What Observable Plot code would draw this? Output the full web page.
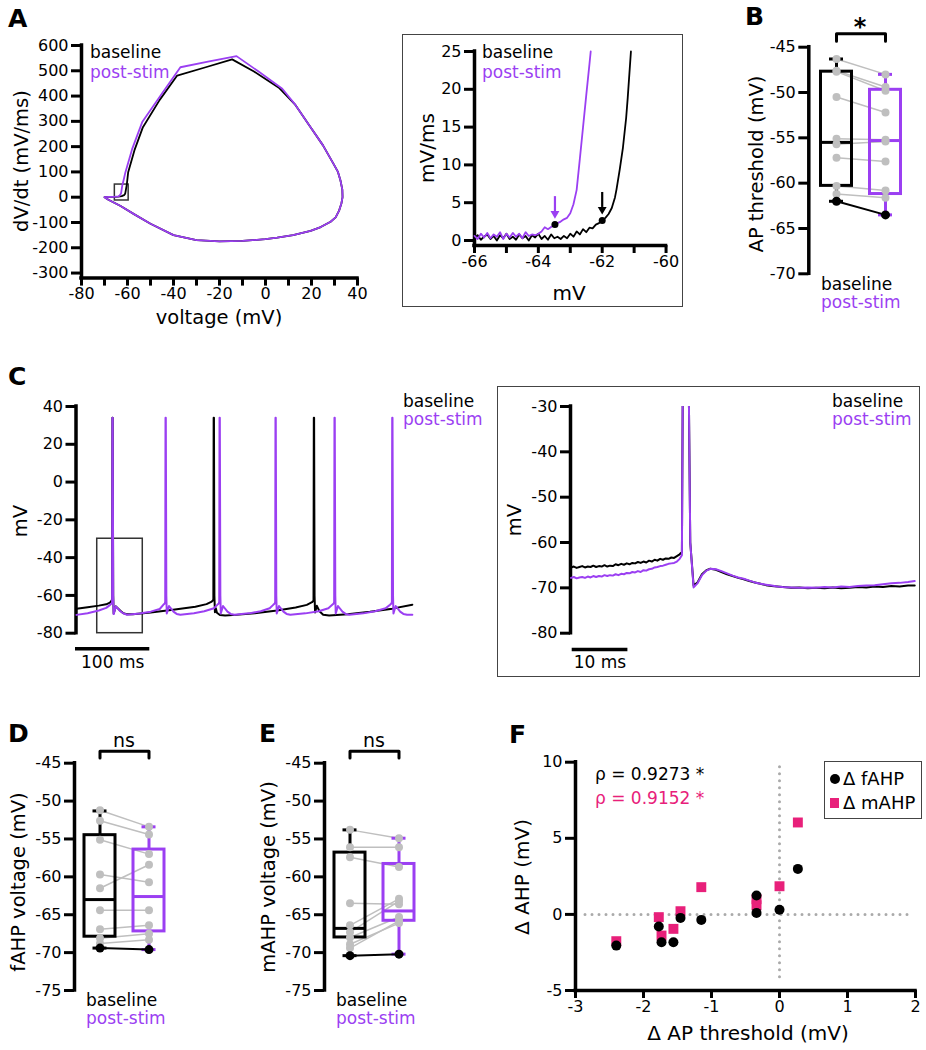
<!DOCTYPE html>
<html><head><meta charset="utf-8">
<script src="https://cdn.jsdelivr.net/npm/d3@7"></script>
<script src="https://cdn.jsdelivr.net/npm/@observablehq/plot@0.6"></script>
<style>
body{margin:0;background:#fff;}
#fig{position:relative;width:926px;height:1050px;font-family:"DejaVu Sans",sans-serif;overflow:hidden;background:#fff}
#fig svg{position:absolute;overflow:visible;background:transparent}
.t{position:absolute;white-space:nowrap;line-height:1;color:#000}
.box{position:absolute;border:1.5px solid #444;box-sizing:border-box}
</style></head><body><div id="fig"></div>
<script>
// ---------------- DATA ----------------
// A: phase plot (voltage mV, dV/dt mV/ms)
const phaseBaseV = [-70, -68, -66, -64, -62.5, -61.5, -61, -60.3, -59.7, -57, -53.3, -46, -38.4, -26, -14.5, -5, 5.8, 13, 19.6, 25, 29.7, 31.5, 32.6, 33.4, 33.5];
const phaseBaseD = [0, 1, 1, 2, 4, 8, 14, 50, 99, 185, 277, 385, 481, 514, 545, 497, 433, 365, 277, 205, 130, 100, 66, 30, 0];
const phasePostV = [-70, -68, -66, -65, -64, -63.5, -62.8, -62.3, -61.5, -60.9, -58, -53.6, -45, -37, -25, -12.6, -3, 7.3, 13, 19.6, 25, 29.7, 31.5, 32.6, 33.4, 33.5];
const phasePostD = [0, 1, 1, 2, 3, 6, 15, 45, 75, 99, 190, 297, 410, 514, 536, 558, 497, 429, 365, 277, 205, 130, 100, 66, 30, 0];
const phaseRetV = [33, 32, 30.5, 28.3, 24, 19.6, 12, 5.1, 0, -10, -20, -30, -40, -50, -57, -63, -68.3, -70];
const phaseRetD = [-25, -53, -80, -97, -118, -133, -150, -160, -166, -173, -175, -170, -150, -105, -68, -35, -10, 0];
const aZoomBox = [-65.5, -59.5, -13, 50];
const aYTicks = [-300, -200, -100, 0, 100, 200, 300, 400, 500, 600];
const aXTicks = [-80, -70, -60, -50, -40, -30, -20, -10, 0, 10, 20, 30, 40];
const aXLabels = [-80, -60, -40, -20, 0, 20, 40];
// A inset
const aInsetBaseV = [-66.0,-65.9,-65.8,-65.7,-65.6,-65.5,-65.4,-65.3,-65.2,-65.1,-65.0,-64.9,-64.8,-64.7,-64.6,-64.5,-64.4,-64.3,-64.2,-64.1,-64.0,-63.9,-63.8,-63.7,-63.6,-63.5,-63.4,-63.3,-63.2,-63.1,-63.0,-62.9,-62.8,-62.7,-62.6,-62.5,-62.4,-62.3,-62.2,-62.1,-62.0,-61.9,-61.8,-61.7,-61.6,-61.55,-61.45,-61.35,-61.25,-61.2,-61.1];
const aInsetBaseD = [0.3,0.7,0.1,0.5,0.8,0.2,0.6,0.0,0.7,0.3,0.9,0.2,0.5,0.1,0.8,0.3,0.6,0.0,0.7,0.4,0.9,0.2,0.6,0.1,0.8,0.3,0.5,0.2,0.6,0.3,0.9,0.5,1.2,0.8,1.5,1.1,1.7,1.6,2.1,2.3,2.65,3.0,3.5,4.3,5.7,6.8,9.4,12.3,16.2,18.9,25];
const aInsetPostV = [-66.0,-65.9,-65.8,-65.7,-65.6,-65.5,-65.4,-65.3,-65.2,-65.1,-65.0,-64.9,-64.8,-64.7,-64.6,-64.5,-64.4,-64.3,-64.2,-64.1,-64.0,-63.9,-63.8,-63.7,-63.6,-63.5,-63.4,-63.3,-63.2,-63.1,-63.0,-62.9,-62.8,-62.7,-62.6,-62.5,-62.4,-62.36];
const aInsetPostD = [0.6,0.2,0.9,0.4,1.0,0.3,0.8,0.5,1.1,0.2,0.9,0.4,1.0,0.5,0.9,0.3,1.1,0.6,0.8,0.7,0.9,1.2,1.75,1.5,1.8,2.1,2.3,2.5,2.8,3.0,3.6,4.8,6.7,10.8,15.0,19.2,23.3,25];
const aThreshV = [-62.0, -63.48];   // baseline, post-stim
const aThreshD = [2.65, 2.1];
const aInsetYTicks = [0, 5, 10, 15, 20, 25];
const aInsetXTicks = [-66, -65, -64, -63, -62, -61, -60];
const aInsetXLabels = [-66, -64, -62, -60];
// B: AP threshold (mV), paired
const bBase = [-46.3, -47.6, -47.7, -50.5, -55.1, -55.7, -57.2, -60.3, -61.2, -62.0];
const bPost = [-48.0, -49.4, -49.8, -52.2, -55.2, -55.4, -57.6, -60.8, -61.6, -63.5];
const bBoxQ1 = [-60.3, -61.2], bBoxMed = [-55.5, -55.3], bBoxQ3 = [-47.7, -49.7], bBoxMin = [-62.0, -63.5], bBoxMax = [-46.3, -48.0];
const bYTicks = [-45, -50, -55, -60, -65, -70];
// C: voltage traces (ms, mV)
const cBaseT = [0,15,30,40,45,47.2,47.9,48.3,48.7,49.4, 50.0,53.0,59,63,67.5,76,100,130,160,175, 182,184.2,184.6,185.0,185.6,186.3,187.5,189,193,200, 215,240,270,295,310,317,319.0,319.4,319.8,320.4, 321.1,323.5,327,332,340,365,395,425,452];
const cBaseV = [-67.1,-66.3,-65.4,-64.7,-63.8,-62.8,-62.1,34,34,-60, -69.5,-65.8,-68.1,-69.4,-70.0,-70.0,-69.0,-67.6,-66.0,-64.6, -63.3,-62.3,34,34,-60,-68.9,-66.8,-69.2,-70.4,-70.6, -70.3,-69.4,-68.0,-66.4,-65.0,-63.6,-62.7,34,34,-60, -69.0,-65.5,-68.4,-70.2,-70.6,-70.0,-68.7,-67.0,-64.9];
const cPostT = [0,15,30,40,45.3,47.3,47.9,48.3,48.7,49.4,50.0,53.0,59,63.3,68.3,
 85,100,112,116.8,118.8,119.4,119.8,120.2,120.9,121.5,124.5,130.5,134.8,139.8,
 158,172,185,189.5,191.5,192.1,192.5,192.9,193.6,194.2,197.2,203.2,207.5,212.5,
 232,248,260,264.8,266.8,267.4,267.8,268.2,268.9,269.5,272.5,278.5,282.8,287.8,
 308,326,339,344.2,346.2,346.8,347.2,347.6,348.3,348.9,351.9,357.9,362.2,367.2,
 386,402,416,421.9,423.9,424.5,424.9,425.3,426.0,426.6,429.6,435.6,439.9,444.9,452];
const cPostV = [-70.3,-69.4,-68.0,-66.6,-65.0,-64.3,-63.3,34,34,-60,-69.9,-65.8,-68.4,-69.6,-70.2,
 -69.6,-68.6,-67.2,-65.0,-64.3,-63.3,34,34,-60,-69.6,-65.6,-68.6,-69.8,-70.2,
 -69.4,-68.4,-66.8,-65.0,-64.3,-63.3,34,34,-60,-69.6,-65.6,-68.6,-69.8,-70.2,
 -69.5,-68.4,-66.8,-65.0,-64.3,-63.3,34,34,-60,-69.6,-65.6,-68.6,-69.8,-70.2,
 -69.5,-68.4,-66.8,-65.0,-64.3,-63.3,34,34,-60,-69.6,-65.6,-68.6,-69.8,-70.2,
 -69.5,-68.4,-66.8,-65.0,-64.3,-63.3,34,34,-60,-69.6,-65.6,-68.6,-69.8,-70.2,-70.2];
const cZoomWindow = [27.9, 89.2, -80, -30];
const cLeftYTicks = [40, 20, 0, -20, -40, -60, -80];
const cLeftScaleMs = 100;
const cRightT = [28,28.5,29,29.5,30,30.5,31,31.5,32,32.5,33,33.5,34,34.5,35,35.5,36,36.5,37,37.5,38,38.5,39,39.5,40,40.5,41,41.5,42,42.5,43,43.5,44,44.5,45,45.5,46,46.5,47,47.5,47.9,
 48.3,48.7,49.4,50.0,50.7,51.5,52.3,53.0, 54,55,56,57,58,59,60,61,62,63,64,65,66,
 67.5,69,70.5,72,73.5,75,76.5,78,79.5,81,82.5,84,85.5,87,88.5, 89.7];
const cRightBase = [-65.5,-65.3,-65.6,-65.4,-65.2,-65.5,-65.3,-65.4,-65.1,-65.4,-65.2,-65.3,-65.0,-65.3,-65.1,-65.2,-64.8,-65.0,-64.7,-64.9,-64.6,-64.8,-64.5,-64.6,-64.3,-64.5,-64.2,-64.4,-64.0,-64.2,-63.8,-64.0,-63.6,-63.8,-63.5,-63.6,-63.3,-63.4,-63.0,-62.6,-62.1,
 30,30,-60,-69.5,-68.8,-67.0,-66.1,-65.8, -66.0,-66.5,-67.0,-67.4,-67.8,-68.1,-68.5,-68.8,-69.1,-69.4,-69.6,-69.7,-69.8,
 -70.0,-69.9,-70.1,-70.0,-70.1,-69.9,-70.1,-70.0,-69.8,-69.9,-69.7,-69.8,-69.6,-69.7,-69.5, -69.5];
const cRightPost = [-67.8,-67.6,-67.9,-67.7,-67.6,-67.8,-67.5,-67.7,-67.4,-67.6,-67.4,-67.5,-67.2,-67.4,-67.2,-67.3,-67.0,-67.2,-66.9,-67.0,-66.7,-66.8,-66.5,-66.6,-66.3,-66.5,-66.1,-66.2,-65.9,-65.8,-65.5,-65.4,-65.2,-65.1,-64.9,-64.7,-64.6,-64.5,-64.2,-63.6,-62.8,
 30,30,-60,-69.9,-69.0,-67.2,-66.2,-65.8, -65.9,-66.3,-66.8,-67.3,-67.7,-68.0,-68.4,-68.8,-69.1,-69.3,-69.5,-69.7,-69.8,
 -69.9,-70.0,-69.9,-70.0,-69.8,-69.9,-69.7,-69.8,-69.6,-69.5,-69.4,-69.2,-69.0,-68.9,-68.7, -68.5];
const cRightYTicks = [-30, -40, -50, -60, -70, -80];
const cRightScaleMs = 10;
// D: fAHP voltage (mV)
const dBase = [-51.2, -52.6, -55.1, -59.7, -61.5, -64.4, -66.9, -68.1, -68.8, -69.4];
const dPost = [-53.4, -54.4, -57.0, -60.7, -58.4, -64.4, -66.4, -67.5, -68.3, -69.6];
const dBoxQ1 = [-67.9, -67.2], dBoxMed = [-63.0, -62.6], dBoxQ3 = [-54.5, -56.4], dBoxMin = [-69.4, -69.6], dBoxMax = [-51.3, -53.4];
// E: mAHP voltage (mV)
const eBase = [-53.8, -56.1, -57.4, -63.5, -66.4, -67.3, -68.0, -68.9, -69.4, -70.4];
const ePost = [-54.9, -56.1, -58.7, -63.6, -62.9, -63.2, -65.3, -66.1, -65.8, -70.2];
const eBoxQ1 = [-68.0, -65.8], eBoxMed = [-66.8, -64.5], eBoxQ3 = [-56.8, -58.3], eBoxMin = [-70.4, -70.2], eBoxMax = [-53.8, -54.9];
const deYTicks = [-45, -50, -55, -60, -65, -70, -75];
// F: deltas
const fDeltaThr = [-2.40, -1.775, -1.735, -1.56, -1.456, -1.15, -0.338, -0.338, 0, 0.27];
const fDeltaFAHP = [-2.05, -0.8, -1.83, -1.83, -0.23, -0.36, 1.24, 0.1, 0.3, 2.99];
const fDeltaMAHP = [-1.76, -0.18, -1.39, -0.95, 0.21, 1.79, 1.0, 0.6, 1.85, 6.04];
const fXTicks = [-3, -2, -1, 0, 1, 2];
const fYTicks = [-5, 0, 5, 10];
const fRho = ["ρ = 0.9273 *", "ρ = 0.9152 *"];

// ---------------- HELPERS ----------------
const PURPLE = "#9b3ff2", PINK = "#e8207a", GRAY = "#bfbfbf";
const FONT = '"DejaVu Sans", sans-serif';
const fig = document.getElementById("fig");
function lin(p0, v0, p1, v1) { const k = (v1 - v0) / (p1 - p0); return p => v0 + (p - p0) * k; }
function panel(L, T, W, H, fr, fx, fy, marks) {
  const [x0, y0, x1, y1] = fr;
  const svg = Plot.plot({
    width: W, height: H,
    marginLeft: x0 - L, marginRight: L + W - x1, marginTop: y0 - T, marginBottom: T + H - y1,
    x: {type: "linear", domain: [fx(x0), fx(x1)], axis: null},
    y: {type: "linear", domain: [fy(y1), fy(y0)], axis: null},
    style: {fontFamily: FONT, background: "transparent", overflow: "visible", color: "#000"},
    marks
  });
  svg.style.position = "absolute"; svg.style.left = L + "px"; svg.style.top = T + "px";
  svg.style.maxWidth = "none";
  fig.append(svg);
}
function axisY(fx, fy, {at, ticks, from, to, len = 10, pad = 3, size = 16, fmt = d => String(d)}) {
  return [
    Plot.ruleX([fx(at)], {x: d => d, y1: from, y2: to, stroke: "#000", strokeWidth: 3.5, strokeLinecap: "square"}),
    Plot.ruleY(ticks, {y: d => d, x1: fx(at - len), x2: fx(at), stroke: "#000", strokeWidth: 3}),
    Plot.text(ticks, {y: d => d, x: fx(at - len - pad), text: fmt, textAnchor: "end", fontSize: size, fill: "#000"})
  ];
}
function axisX(fx, fy, {at, ticks, labels, from, to, len = 9, pad = 2, size = 16, fmt = d => String(d)}) {
  return [
    Plot.ruleY([fy(at)], {y: d => d, x1: from, x2: to, stroke: "#000", strokeWidth: 3.5, strokeLinecap: "square"}),
    Plot.ruleX(ticks, {x: d => d, y1: fy(at), y2: fy(at + len), stroke: "#000", strokeWidth: 3}),
    Plot.text(labels || ticks, {x: d => d, y: fy(at + len + pad), text: fmt, lineAnchor: "top", fontSize: size, fill: "#000"})
  ];
}
function label(s, x, y, o = {}) {
  const d = document.createElement("div");
  d.className = "t"; d.textContent = s;
  d.style.fontSize = (o.size || 17) + "px";
  if (o.color) d.style.color = o.color;
  if (o.bold) d.style.fontWeight = "bold";
  d.style.left = x + "px"; d.style.top = y + "px";
  const ax = o.anchor === "middle" ? "-50%" : o.anchor === "end" ? "-100%" : "0";
  d.style.transform = `translate(${ax}, -50%)` + (o.rotate ? ` rotate(${o.rotate}deg)` : "");
  fig.append(d);
}
function frameBox(x, y, w, h) {
  const d = document.createElement("div"); d.className = "box";
  Object.assign(d.style, {left: x + "px", top: y + "px", width: w + "px", height: h + "px"});
  fig.append(d);
}
const zip = (xs, ys, kx = "x", ky = "y") => xs.map((v, i) => ({[kx]: v, [ky]: ys[i]}));

function pairedMarks(fx, fy, base, post, q1, med, q3, mn, mx, bracketY, legY) {
  const pairs = base.map((b, i) => ({b, p: post[i]}));
  const grayPairs = pairs.slice(0, -1), blackPair = pairs.slice(-1);
  const hw = 15.5 / 49, cw = 7 / 49;
  const m = [];
  m.push(Plot.link(grayPairs, {x1: 0, x2: 1, y1: "b", y2: "p", stroke: GRAY, strokeWidth: 1.5}));
  [0, 1].forEach(g => {
    const c = g ? PURPLE : "#000";
    m.push(Plot.rect([g], {x1: g - hw, x2: g + hw, y1: q1[g], y2: q3[g], fill: "none", stroke: c, strokeWidth: 3}));
    m.push(Plot.ruleY([med[g]], {y: d => d, x1: g - hw, x2: g + hw, stroke: c, strokeWidth: 3}));
    m.push(Plot.ruleX([g], {x: d => d, y1: q3[g], y2: mx[g], stroke: c, strokeWidth: 3}));
    m.push(Plot.ruleX([g], {x: d => d, y1: q1[g], y2: mn[g], stroke: c, strokeWidth: 3}));
    m.push(Plot.ruleY([mx[g], mn[g]], {y: d => d, x1: g - cw, x2: g + cw, stroke: c, strokeWidth: 3}));
  });
  m.push(Plot.dot(grayPairs, {x: 0, y: "b", r: 4, fill: GRAY}));
  m.push(Plot.dot(grayPairs, {x: 1, y: "p", r: 4, fill: GRAY}));
  m.push(Plot.link(blackPair, {x1: 0, x2: 1, y1: "b", y2: "p", stroke: "#000", strokeWidth: 2}));
  m.push(Plot.dot(blackPair, {x: 0, y: "b", r: 4.5, fill: "#000"}));
  m.push(Plot.dot(blackPair, {x: 1, y: "p", r: 4.5, fill: "#000"}));
  // significance bracket
  const yt = fy(bracketY), yl = fy(legY);
  m.push(Plot.line([{x: 0, y: yl}, {x: 0, y: yt}, {x: 1, y: yt}, {x: 1, y: yl}], {x: "x", y: "y", stroke: "#000", strokeWidth: 3}));
  return m;
}

// ---------------- PANEL A (phase plot) ----------------
{
  const fx = lin(81, -80, 357, 40), fy = lin(196.7, 0, 45, 600);
  const base = zip(phaseBaseV.concat(phaseRetV), phaseBaseD.concat(phaseRetD));
  const post = zip(phasePostV.concat(phaseRetV), phasePostD.concat(phaseRetD));
  panel(0, 0, 390, 330, [81, 45, 357, 277.6], fx, fy, [
    ...axisY(fx, fy, {at: 81, ticks: aYTicks, from: fy(277.6), to: 600, len: 10}),
    ...axisX(fx, fy, {at: 277.6, ticks: aXTicks, labels: aXLabels, from: -80, to: 40, len: 8}),
    Plot.rect([0], {x1: aZoomBox[0], x2: aZoomBox[1], y1: aZoomBox[2], y2: aZoomBox[3], fill: "none", stroke: "#333", strokeWidth: 1.5}),
    Plot.line(base, {x: "x", y: "y", stroke: "#000", strokeWidth: 1.8}),
    Plot.line(post, {x: "x", y: "y", stroke: PURPLE, strokeWidth: 1.8})
  ]);
  label("A", 8, 18, {size: 25, bold: true});
  label("baseline", 90, 52);
  label("post-stim", 90, 72, {color: PURPLE});
  label("voltage (mV)", 219, 318, {size: 19.5, anchor: "middle"});
  label("dV/dt (mV/ms)", 22, 161, {size: 19.5, anchor: "middle", rotate: -90});
}
// ---------------- PANEL A inset ----------------
{
  frameBox(402, 34, 281, 273);
  const fx = lin(474, -66, 601.7, -62), fy = lin(240, 0, 51, 25);
  const th = zip(aThreshV, aThreshD);
  const pxOf = d => 240 - d * 7.56;
  const arrows = th.map((d, i) => ({x: d.x, y1: fy(pxOf(d.y) - 28), y2: fy(pxOf(d.y) - 13), yh: fy(pxOf(d.y) - 11), c: i}));
  const arrowMarks = [0, 1].flatMap(i => {
    const col = i ? PURPLE : "#000";
    const a = arrows.filter(d => d.c === i);
    return [
      Plot.ruleX(a, {x: "x", y1: "y1", y2: "y2", stroke: col, strokeWidth: 2.2}),
      Plot.dot(a, {x: "x", y: "yh", symbol: "triangle", r: 3.3, rotate: 180, fill: col})
    ];
  });
  panel(405, 40, 275, 262, [474, 51, 665, 245], fx, fy, [
    ...axisY(fx, fy, {at: 474, ticks: aInsetYTicks, from: fy(245), to: 25, len: 10}),
    ...axisX(fx, fy, {at: 245, ticks: aInsetXTicks, labels: aInsetXLabels, from: -66, to: -60, len: 8}),
    Plot.line(zip(aInsetBaseV, aInsetBaseD), {x: "x", y: "y", stroke: "#000", strokeWidth: 1.8}),
    Plot.line(zip(aInsetPostV, aInsetPostD), {x: "x", y: "y", stroke: PURPLE, strokeWidth: 1.8}),
    Plot.dot(th, {x: "x", y: "y", r: 3.5, fill: "#000"}),
    ...arrowMarks
  ]);
  label("baseline", 482, 52);
  label("post-stim", 482, 72, {color: PURPLE});
  label("mV", 569, 293, {size: 20, anchor: "middle"});
  label("mV/ms", 427, 148, {size: 20, anchor: "middle", rotate: -90});
}
// ---------------- PANEL B ----------------
{
  const fx = lin(836, 0, 885, 1), fy = lin(46.7, -45, 273.3, -70);
  panel(700, 0, 226, 320, [808.3, 46.7, 924, 273.3], fx, fy, [
    ...axisY(fx, fy, {at: 808.3, ticks: bYTicks, from: -70, to: -45, len: 10}),
    ...pairedMarks(fx, fy, bBase, bPost, bBoxQ1, bBoxMed, bBoxQ3, bBoxMin, bBoxMax, 33.3, 40.7)
  ]);
  label("B", 745, 16, {size: 25, bold: true});
  label("*", 860, 27, {size: 24, bold: true, anchor: "middle"});
  label("AP threshold (mV)", 757, 164, {size: 19.5, anchor: "middle", rotate: -90});
  label("baseline", 821, 284);
  label("post-stim", 821, 302, {color: PURPLE});
}
// ---------------- PANEL C left ----------------
{
  const fx = lin(76, 0, 150.3, 100), fy = lin(406, 40, 632.7, -80);
  panel(0, 380, 490, 300, [76, 406, 420, 632.7], fx, fy, [
    ...axisY(fx, fy, {at: 75.5, ticks: cLeftYTicks, from: -80, to: 40, len: 10}),
    Plot.rect([0], {x1: cZoomWindow[0], x2: cZoomWindow[1], y1: cZoomWindow[2], y2: cZoomWindow[3], fill: "none", stroke: "#333", strokeWidth: 1.5}),
    Plot.line(zip(cBaseT, cBaseV), {x: "x", y: "y", stroke: "#000", strokeWidth: 2}),
    Plot.line(zip(cPostT, cPostV), {x: "x", y: "y", stroke: PURPLE, strokeWidth: 2}),
    Plot.ruleY([fy(648.3)], {y: d => d, x1: fx(75), x2: fx(75) + cLeftScaleMs, stroke: "#000", strokeWidth: 3.5})
  ]);
  label("C", 8, 376, {size: 25, bold: true});
  label("mV", 21, 521, {size: 19.5, anchor: "middle", rotate: -90});
  label("baseline", 403, 401);
  label("post-stim", 403, 419, {color: PURPLE});
  label("100 ms", 112.7, 662, {anchor: "middle"});
}
// ---------------- PANEL C right ----------------
{
  frameBox(497, 386, 423, 291);
  const fx = lin(570, 27.9, 625.7, 37.9), fy = lin(406, -30, 632.7, -80);
  panel(500, 390, 418, 284, [570, 406, 916, 632.7], fx, fy, [
    ...axisY(fx, fy, {at: 570, ticks: cRightYTicks, from: -80, to: -30, len: 10}),
    Plot.line(zip(cRightT, cRightBase), {x: "x", y: "y", stroke: "#000", strokeWidth: 2, clip: true}),
    Plot.line(zip(cRightT, cRightPost), {x: "x", y: "y", stroke: PURPLE, strokeWidth: 2, clip: true}),
    Plot.ruleY([fy(649)], {y: d => d, x1: fx(571.7), x2: fx(571.7) + cRightScaleMs, stroke: "#000", strokeWidth: 3.5})
  ]);
  label("mV", 515, 520, {size: 19.5, anchor: "middle", rotate: -90});
  label("baseline", 832, 401);
  label("post-stim", 832, 419, {color: PURPLE});
  label("10 ms", 600, 662, {anchor: "middle"});
}
// ---------------- PANEL D ----------------
{
  const fx = lin(99.5, 0, 148.5, 1), fy = lin(762.7, -45, 990, -75);
  panel(0, 700, 250, 330, [74, 762.7, 190, 990], fx, fy, [
    ...axisY(fx, fy, {at: 74, ticks: deYTicks, from: -75, to: -45, len: 10}),
    ...pairedMarks(fx, fy, dBase, dPost, dBoxQ1, dBoxMed, dBoxQ3, dBoxMin, dBoxMax, 750.7, 757.5)
  ]);
  label("D", 8, 733, {size: 25, bold: true});
  label("ns", 124, 740, {size: 19, anchor: "middle"});
  label("fAHP voltage (mV)", 18.5, 882, {size: 19.5, anchor: "middle", rotate: -90});
  label("baseline", 86, 1000);
  label("post-stim", 86, 1018, {color: PURPLE});
}
// ---------------- PANEL E ----------------
{
  const fx = lin(349.5, 0, 398.5, 1), fy = lin(762.7, -45, 990, -75);
  panel(250, 700, 250, 330, [324, 762.7, 440, 990], fx, fy, [
    ...axisY(fx, fy, {at: 324, ticks: deYTicks, from: -75, to: -45, len: 10}),
    ...pairedMarks(fx, fy, eBase, ePost, eBoxQ1, eBoxMed, eBoxQ3, eBoxMin, eBoxMax, 750.7, 757.5)
  ]);
  label("E", 259, 733, {size: 25, bold: true});
  label("ns", 374, 740, {size: 19, anchor: "middle"});
  label("mAHP voltage (mV)", 268.5, 877, {size: 19.5, anchor: "middle", rotate: -90});
  label("baseline", 336, 1000);
  label("post-stim", 336, 1018, {color: PURPLE});
}
// ---------------- PANEL F ----------------
{
  const fx = lin(575, -3, 915, 2), fy = lin(761.7, 10, 990, -5);
  const fa = zip(fDeltaThr, fDeltaFAHP), ma = zip(fDeltaThr, fDeltaMAHP);
  panel(500, 700, 426, 340, [575, 761.7, 915, 990], fx, fy, [
    Plot.ruleX([0], {x: d => d, y1: fy(766.7), y2: fy(978), stroke: "#aaa", strokeWidth: 3, strokeDasharray: "0 7", strokeLinecap: "round"}),
    Plot.ruleY([0], {y: d => d, x1: fx(585), x2: fx(910), stroke: "#aaa", strokeWidth: 3, strokeDasharray: "0 7", strokeLinecap: "round"}),
    ...axisY(fx, fy, {at: 575, ticks: fYTicks, from: -5, to: 10, len: 10}),
    ...axisX(fx, fy, {at: 990, ticks: fXTicks, from: -3, to: 2, len: 8}),
    Plot.dot(ma, {x: "x", y: "y", symbol: "square", r: 5.6, fill: PINK}),
    Plot.dot(fa, {x: "x", y: "y", r: 5, fill: "#000"})
  ]);
  label("F", 509, 734, {size: 25, bold: true});
  label(fRho[0], 595, 774);
  label(fRho[1], 595, 798, {color: PINK});
  frameBox(824, 761, 98, 58);
  const c = document.createElement("div");
  Object.assign(c.style, {position: "absolute", left: "829.5px", top: "773.5px", width: "10px", height: "10px", borderRadius: "50%", background: "#000"});
  fig.append(c);
  const s = document.createElement("div");
  Object.assign(s.style, {position: "absolute", left: "829.5px", top: "798px", width: "9.5px", height: "9.5px", background: PINK});
  fig.append(s);
  label("Δ fAHP", 843, 779, {size: 18});
  label("Δ mAHP", 843, 803, {size: 18});
  label("Δ AP threshold (mV)", 748, 1033, {size: 20, anchor: "middle"});
  label("Δ AHP (mV)", 522, 877, {size: 20, anchor: "middle", rotate: -90});
}
</script></body></html>
